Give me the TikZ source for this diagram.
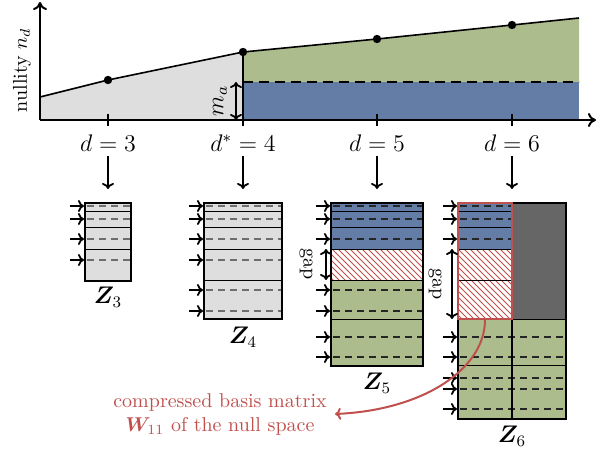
\documentclass[tikz,border=0pt]{standalone}
\usepackage{amsmath,bm}
\usetikzlibrary{patterns,arrows.meta}
\definecolor{cgray}{RGB}{222,222,222}
\definecolor{cgreen}{RGB}{173,188,141}
\definecolor{cblue}{RGB}{100,125,167}
\definecolor{cdark}{RGB}{102,102,102}
\definecolor{cred}{RGB}{192,80,77}
\definecolor{cdash}{RGB}{110,110,110}
\begin{document}
\begin{tikzpicture}[x=0.5pt,y=-0.5pt,
  ax/.style={line width=1pt,-{To[length=4pt,width=7pt]}},
  inarr/.style={line width=0.9pt,-{To[length=3pt,width=6pt]}},
  dblarr/.style={line width=0.9pt,{To[length=3pt,width=6pt]}-{To[length=3pt,width=6pt]}},
  matbox/.style={draw,line width=1pt,inner sep=0pt},
  sepline/.style={line width=0.5pt},
  dl/.style={line width=0.6pt,dash pattern=on 3.5pt off 2.5pt},
  gdl/.style={dl,draw=cdash},
  bdl/.style={dl,draw=black!85},
  lab/.style={font=\large,inner sep=1pt,text height=8.5pt,text depth=0pt},
  zlab/.style={font=\large},
  dot/.style={circle,fill=black,inner sep=0pt,minimum size=4.2pt},
  hatch/.style={pattern=north west lines,pattern color=cred}]
\useasboundingbox (0,0) rectangle (601,451);

% ---- top chart ----
\fill[cgray] (40,120) -- (40,97) -- (108,80) -- (243,52) -- (243,120) -- cycle;
\fill[cgreen] (243,82) -- (243,52) -- (377,39) -- (512,25) -- (579,18) -- (579,82) -- cycle;
\fill[cblue] (243,82) rectangle (579,120);
\draw[line width=0.8pt,dash pattern=on 5pt off 3pt] (243,82) -- (579,82);
\draw[line width=0.8pt] (243,52) -- (243,120);
\draw[line width=0.8pt] (40,97) -- (108,80) -- (243,52) -- (377,39) -- (512,25) -- (579,18);
\node[dot] (p3) at (108,80) {};
\node[dot] (p4) at (243,52) {};
\node[dot] (p5) at (377,39) {};
\node[dot] (p6) at (512,25) {};
\coordinate (o) at (40,120);
\coordinate (xend) at (596,120);
\coordinate (yend) at (40,2);
\draw[ax] (o) -- (xend);
\draw[ax] (o) -- (yend);
\node[rotate=90] (ylab) at (22,70) {nullity $n_d$};
\coordinate (ma1) at (236,82);
\coordinate (ma2) at (236,120);
\draw[dblarr] (ma1) -- (ma2);
\node[rotate=90,font=\large] (malab) at (220,101) {$m_a$};
\foreach \x in {108,243,377,512} \draw[line width=1pt] (\x,114) -- (\x,126);
\node[lab] (l3) at (108,143) {$d=3$};
\node[lab] (l4) at (243,143) {$d^*=4$};
\node[lab] (l5) at (377,143) {$d=5$};
\node[lab] (l6) at (512,143) {$d=6$};

% ---- Z3 ----
\fill[cgray] (85,203) rectangle (131,281);
\foreach \y in {211,227,249} \draw[sepline] (85,\y) -- (131,\y);
\foreach \y in {206,219,239,260} \draw[gdl] (87,\y) -- (131,\y);
\node[matbox,minimum width=23pt,minimum height=39pt] (Z3) at (108,242) {};
\foreach \y in {206,219,239,260} \draw[inarr] (Z3.west |- 0,\y) ++(-14,0) -- ++(14,0);
\node[zlab] (z3l) at (108,297) {$\bm{Z}_3$};

% ---- Z4 ----
\fill[cgray] (204,203) rectangle (282,319);
\foreach \y in {211,227,249,280} \draw[sepline] (204,\y) -- (282,\y);
\foreach \y in {206,219,239,260,290,311} \draw[gdl] (206,\y) -- (282,\y);
\node[matbox,minimum width=39pt,minimum height=58pt] (Z4) at (243,261) {};
\foreach \y in {206,219,239,260,290,311} \draw[inarr] (Z4.west |- 0,\y) ++(-14,0) -- ++(14,0);
\node[zlab] (z4l) at (243,337) {$\bm{Z}_4$};

% ---- Z5 ----
\fill[cblue] (331,203) rectangle (423,249);
\fill[white] (331,249) rectangle (423,280);
\fill[hatch] (331,249) rectangle (423,280);
\fill[cgreen] (331,280) rectangle (423,366);
\foreach \y in {211,227,249,280,319} \draw[sepline] (331,\y) -- (423,\y);
\foreach \y in {206,219,239,290,311,337,357} \draw[bdl] (333,\y) -- (423,\y);
\node[matbox,minimum width=46pt,minimum height=81.5pt] (Z5) at (377,284.5) {};
\foreach \y in {206,219,239,290,311,337,357} \draw[inarr] (Z5.west |- 0,\y) ++(-14,0) -- ++(14,0);
\coordinate (g5a) at (326,249);
\coordinate (g5b) at (326,280);
\draw[dblarr] (g5a) -- (g5b);
\node[rotate=-90] (g5l) at (306,264) {gap};
\node[zlab] (z5l) at (377,383) {$\bm{Z}_5$};

% ---- Z6 ----
\fill[cblue] (458,203) rectangle (512,249);
\fill[white] (458,249) rectangle (512,319);
\fill[hatch] (458,249) rectangle (512,319);
\fill[cdark] (512,203) rectangle (566,319);
\fill[cgreen] (458,319) rectangle (566,419);
\foreach \y in {211,227,249,280} \draw[sepline] (458,\y) -- (512,\y);
\foreach \y in {319,365} \draw[sepline] (458,\y) -- (566,\y);
\foreach \y in {206,219,239} \draw[bdl] (460,\y) -- (512,\y);
\foreach \y in {337,357,378,389,409} \draw[bdl] (460,\y) -- (566,\y);
\draw[line width=1pt] (512,203) -- (512,419);
\node[matbox,minimum width=54pt,minimum height=108pt] (Z6) at (512,311) {};
\node[draw=cred,line width=1pt,inner sep=0pt,minimum width=27pt,minimum height=58pt] (W) at (485,261) {};
\foreach \y in {206,219,239,337,357,378,389,409} \draw[inarr] (Z6.west |- 0,\y) ++(-14,0) -- ++(14,0);
\coordinate (g6a) at (452,249);
\coordinate (g6b) at (452,319);
\draw[dblarr] (g6a) -- (g6b);
\node[rotate=-90] (g6l) at (435,284) {gap};
\node[zlab] (z6l) at (512,436) {$\bm{Z}_6$};

% ---- down arrows ----
\draw[inarr] ([yshift=-1pt]l3.south) -- ([yshift=6.5pt]Z3.north);
\draw[inarr] ([yshift=-1pt]l4.south) -- ([yshift=6.5pt]Z4.north);
\draw[inarr] ([yshift=-1pt]l5.south) -- ([yshift=6.5pt]Z5.north);
\draw[inarr] ([yshift=-1pt]l6.south) -- ([yshift=6.5pt]Z6.north);

% ---- red annotation ----
\node[text=cred,align=center,inner sep=2pt] (lbl) at (220,414) {compressed basis matrix\\$\bm{W}_{11}$ of the null space};
\draw[cred,line width=1pt,-{To[length=3pt,width=6pt]}] (W.south) .. controls (485,368) and (425,410) .. ([xshift=2pt]lbl.east);
\end{tikzpicture}
\end{document}
